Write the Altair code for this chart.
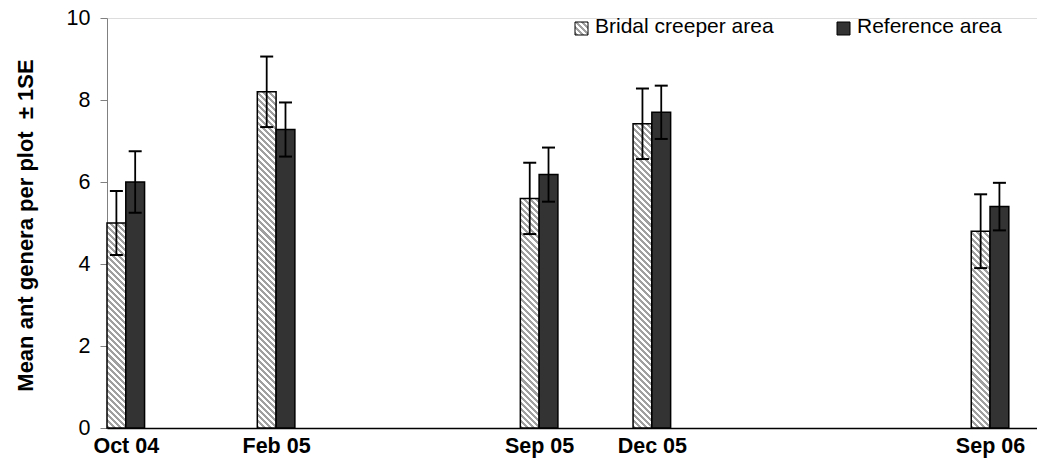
import math

import altair as alt
import pandas as pd

# Survey dates and their position in months after the first survey
dates = ["Oct 04", "Feb 05", "Sep 05", "Dec 05", "Sep 06"]
months_since_start = [0, 4, 11, 14, 23]

# Mean number of ant genera per plot and one standard error
bridal_mean = [5.0, 8.2, 5.6, 7.42, 4.8]
bridal_se = [0.78, 0.86, 0.87, 0.86, 0.9]
reference_mean = [6.0, 7.28, 6.18, 7.7, 5.4]
reference_se = [0.75, 0.66, 0.66, 0.65, 0.58]

series_names = ["Bridal creeper area", "Reference area"]
y_ticks = [0, 2, 4, 6, 8, 10]
y_title = "Mean ant genera per plot \u00a0\u00b1 1SE"

FONT = "Liberation Sans"
W, H = 930, 410
X_MAX = 24.75          # months shown on the time axis
Y_MAX = 10
BAR_SPAN = 0.5         # each bar covers half a month
CAP_HALF = 0.173       # half width of the error-bar caps, in months
HATCH_GREY = "#a0a0a0"
DARK = "#333333"

rows = []
for d, m, bm, bs, rm, rs in zip(dates, months_since_start, bridal_mean,
                                bridal_se, reference_mean, reference_se):
    for slot, (name, mean, se) in enumerate(
            [(series_names[0], bm, bs), (series_names[1], rm, rs)]):
        start = m + slot * BAR_SPAN
        centre = start + BAR_SPAN / 2
        rows.append(dict(date=d, series=name, slot=slot, mean=mean,
                         lo=mean - se, hi=mean + se,
                         x0=start, x1=start + BAR_SPAN, xc=centre,
                         c0=centre - CAP_HALF, c1=centre + CAP_HALF))
df = pd.DataFrame(rows)


def hatch(w, h, period=4.3):
    """Diagonal grey/white stripes for a w x h pixel box, as a linear gradient."""
    r = h / w
    k = (1 + r) / (1 + r * r)
    span = (w + h) / math.sqrt(2)
    stops = []
    n = int(span / period) + 2
    for i in range(n):
        a = min(i * period / span, 1)
        b = min((i + 0.5) * period / span, 1)
        c = min((i + 1) * period / span, 1)
        stops += [
            alt.GradientStop(offset=a, color=HATCH_GREY),
            alt.GradientStop(offset=b, color=HATCH_GREY),
            alt.GradientStop(offset=b, color="#ffffff"),
            alt.GradientStop(offset=c, color="#ffffff"),
        ]
        if c >= 1:
            break
    return alt.LinearGradient(gradient="linear", x1=0, y1=1, x2=k,
                              y2=1 - k * r, stops=stops)


label_lookup = "{" + ",".join(
    f"'{m + 0.5}':'{d}'" for m, d in zip(months_since_start, dates)) + "}"

x_scale = alt.Scale(domain=[0, X_MAX], nice=False, zero=False, padding=0)
y_scale = alt.Scale(domain=[0, Y_MAX], nice=False, padding=0)
x_axis = alt.Axis(
    title=None, values=[m + 0.5 for m in months_since_start],
    labelExpr=f"{label_lookup}[datum.value]", ticks=False, tickSize=0,
    grid=False, domainColor="#000000", domainWidth=1.5,
    labelFont=FONT, labelFontSize=21.5, labelFontWeight="bold",
    labelColor="#000000", labelPadding=7, labelFlush=False, labelOverlap=False)
y_axis = alt.Axis(
    title=y_title, values=y_ticks, grid=False, tickSize=7,
    tickColor="#808080", domainColor="#808080", labelFont=FONT,
    labelFontSize=21.5, labelColor="#000000", labelPadding=10,
    titleFont=FONT, titleFontSize=22, titleFontWeight="bold",
    titleColor="#000000", titleAngle=270, titleAlign="center",
    titleBaseline="alphabetic", titleX=-75, titleY=H / 2 + 2)


def X(field):
    return alt.X(field, type="quantitative", scale=x_scale, axis=x_axis)


def X2(field):
    return alt.X2(field)


def Y(field):
    return alt.Y(field, type="quantitative", scale=y_scale, axis=y_axis)


bar_w = BAR_SPAN / X_MAX * W
layers = []

# Hatched bars: one layer each, the stripes depend on the bar's pixel height
bridal = df[df.slot == 0]
for _, row in bridal.iterrows():
    h = row["mean"] / Y_MAX * H
    layers.append(
        alt.Chart(bridal[bridal.date == row["date"]])
        .mark_bar(fill=hatch(bar_w, h), stroke="#000000", strokeWidth=1.5)
        .encode(x=X("x0"), x2=X2("x1"), y=Y("mean"), y2=alt.datum(0))
    )

layers.append(
    alt.Chart(df[df.slot == 1])
    .mark_bar(fill=DARK, stroke="#000000", strokeWidth=1.5)
    .encode(x=X("x0"), x2=X2("x1"), y=Y("mean"), y2=alt.datum(0))
)

# Error bars: stem plus caps at mean +/- 1 SE
err = alt.Chart(df)
layers.append(err.mark_rule(color="#000000", strokeWidth=1.8)
              .encode(x=X("xc"), y=Y("lo"), y2=alt.Y2("hi")))
layers.append(err.mark_rule(color="#000000", strokeWidth=2)
              .encode(x=X("c0"), x2=X2("c1"), y=Y("hi")))
layers.append(err.mark_rule(color="#000000", strokeWidth=2)
              .encode(x=X("c0"), x2=X2("c1"), y=Y("lo")))

# Legend drawn inside the top of the plot
one = pd.DataFrame({"k": [0]})
legend_items = [
    (series_names[0], hatch(13, 13, period=4.3), 468),
    (series_names[1], DARK, 730),
]
for name, fill, left in legend_items:
    layers.append(
        alt.Chart(one).mark_rect(fill=fill, stroke="#000000", strokeWidth=1)
        .encode(x=alt.value(left), x2=alt.value(left + 13),
                y=alt.value(4), y2=alt.value(17))
    )
    layers.append(
        alt.Chart(one).mark_text(align="left", baseline="alphabetic",
                                 font=FONT, fontSize=21, color="#000000")
        .encode(x=alt.value(left + 20), y=alt.value(15),
                text=alt.value(name))
    )

chart = (
    alt.layer(*layers)
    .properties(width=W, height=H,
                autosize=alt.AutoSizeParams(type="none"),
                padding={"left": 107, "top": 18, "right": 0, "bottom": 36})
    .configure_view(stroke=None)
    .configure(background="#ffffff")
)

chart.save("out.html", embed_options={"renderer": "svg", "actions": False})
